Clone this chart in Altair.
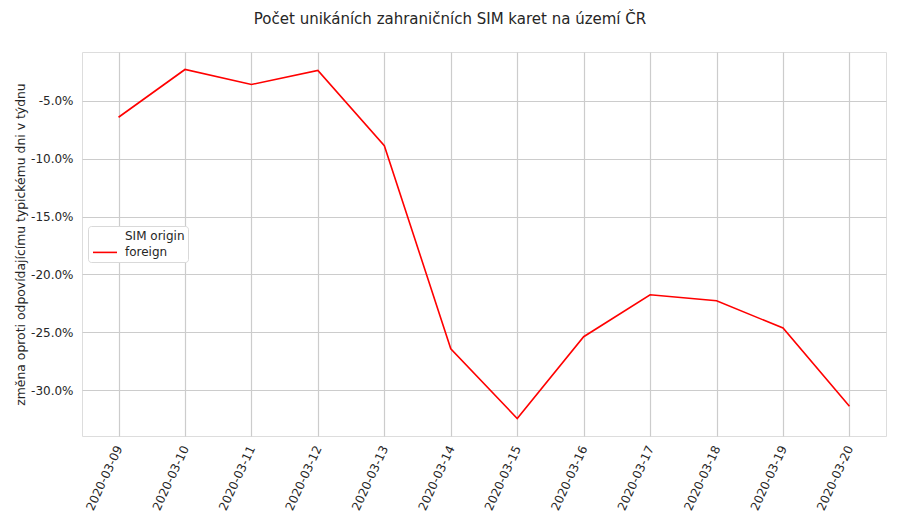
import altair as alt
import pandas as pd

dates = ["2020-03-09", "2020-03-10", "2020-03-11", "2020-03-12", "2020-03-13", "2020-03-14",
         "2020-03-15", "2020-03-16", "2020-03-17", "2020-03-18", "2020-03-19", "2020-03-20"]
foreign = [-0.0642, -0.0229, -0.0359, -0.0237, -0.0887, -0.2642,
           -0.3245, -0.2538, -0.2176, -0.2228, -0.2463, -0.3139]
series_name = "foreign"
legend_title_entry = "SIM origin"
y_ticks = [-0.05, -0.10, -0.15, -0.20, -0.25, -0.30]

df = pd.DataFrame({"date": dates, "value": foreign, "origin": [series_name] * len(dates)})

TEXT = "#262626"
GRID = "#cccccc"
FONT = "DejaVu Sans"

chart = alt.Chart(df).mark_line(color="red", strokeWidth=1.6).encode(
    x=alt.X("date:N", sort=dates,
            scale=alt.Scale(type="point", padding=0.55),
            axis=alt.Axis(title=None, labelAngle=295, labelAlign="right", labelBaseline="middle",
                          labelPadding=10, labelFontSize=12, labelColor=TEXT, labelFont=FONT,
                          ticks=False, domain=False, grid=True, gridColor=GRID, gridWidth=1.2)),
    y=alt.Y("value:Q", scale=alt.Scale(domain=[-0.3396, -0.0078], nice=False, zero=False),
            axis=alt.Axis(title="změna oproti odpovídajícímu typickému dni v týdnu",
                          values=y_ticks,
                          labelExpr="replace(format(datum.value, '.1%'), '\u2212', '-')",
                          labelFontSize=12, labelColor=TEXT, labelFont=FONT, labelPadding=9,
                          titleFontSize=12.4, titleFont=FONT, titleColor=TEXT, titleFontWeight="normal",
                          titlePadding=3,
                          ticks=False, domain=False, grid=True, gridColor=GRID, gridWidth=1.2)),
    color=alt.Color("origin:N",
                    scale=alt.Scale(domain=[legend_title_entry, series_name], range=["transparent", "red"]),
                    legend=alt.Legend(title=None, orient="none", legendX=6, legendY=174,
                                      symbolType="M-2,0H2", symbolSize=144, symbolStrokeWidth=1.6,
                                      symbolOffset=7,
                                      labelFontSize=12, labelFont=FONT, labelColor=TEXT,
                                      fillColor="white", strokeColor="#d9d9d9", cornerRadius=3,
                                      padding=3, rowPadding=3.4, labelOffset=13)),
).properties(
    width=804, height=384,
    title=alt.Title("Počet unikáních zahraničních SIM karet na území ČR", fontSize=15, font=FONT,
                    color=TEXT, fontWeight="normal", anchor="middle", dx=-34, offset=25),
    autosize=alt.AutoSizeParams(type="none"),
    padding={"left": 74, "top": 44, "right": 6, "bottom": 81},
).configure_view(stroke=GRID, strokeWidth=1.2).configure(background="white")

chart.save("out.html", embed_options={"renderer": "svg", "actions": False})
